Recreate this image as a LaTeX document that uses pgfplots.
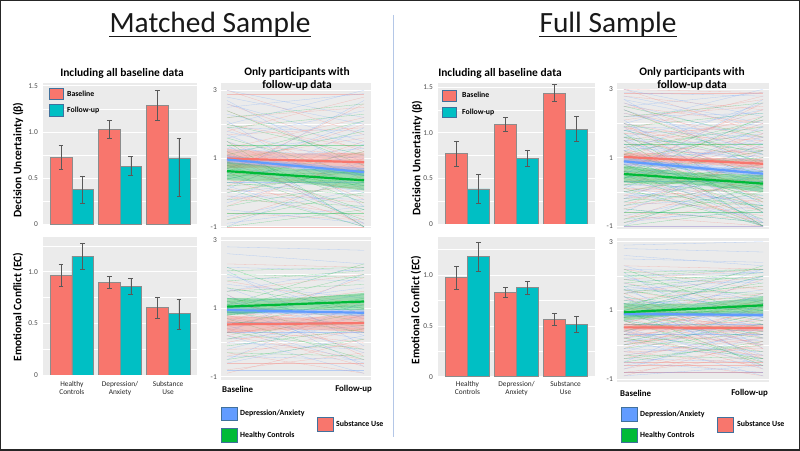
\documentclass[border=0pt]{standalone}
\usepackage{fontspec}
\setmainfont{Carlito}
\usepackage{pgfplots}
\usepackage{pgfplotstable}
\pgfplotsset{compat=1.18}
\definecolor{ggred}{HTML}{F8766D}
\definecolor{ggteal}{HTML}{00BFC4}
\definecolor{ggblue}{HTML}{619CFF}
\definecolor{gggreen}{HTML}{00BA38}
\definecolor{panelgray}{HTML}{EBEBEB}
\definecolor{tickgray}{HTML}{4D4D4D}
\definecolor{boxborder}{HTML}{41719C}
\definecolor{sepline}{HTML}{B4C7E7}

% spaghetti data: b = baseline, f = follow-up
\pgfplotstableread[row sep=\\]{b f\\2.9 2.9\\2.6 1.2\\2.2 2.5\\1.9 0.4\\1.7 1.9\\1.5 -0.2\\1.4 1.1\\1.3 2.2\\1.1 0.3\\1.0 1.6\\0.9 -0.6\\0.8 0.9\\0.7 2.0\\0.6 0.1\\0.5 1.2\\0.4 -0.9\\0.3 0.6\\0.2 1.5\\0.1 -0.3\\0.0 0.8\\-0.2 0.2\\-0.4 1.0\\-0.6 -0.8\\-0.8 0.5\\-1.0 -1.0\\2.4 0.9\\1.8 2.8\\1.2 -1.0\\0.6 2.6\\-0.1 -0.7\\3.0 1.7\\2.0 1.3\\}\duRm
\pgfplotstableread[row sep=\\]{b f\\3.0 2.2\\2.8 2.0\\2.7 0.6\\2.5 2.9\\2.3 1.4\\2.1 -0.4\\1.9 1.8\\1.8 0.8\\1.6 2.4\\1.5 0.2\\1.3 1.0\\1.2 1.7\\1.1 -0.9\\1.0 0.5\\0.9 1.3\\0.8 0.0\\0.7 2.1\\0.6 0.7\\0.5 -0.5\\0.4 1.1\\0.3 0.3\\0.2 -1.0\\0.1 1.9\\0.0 0.4\\-0.1 -0.2\\-0.3 0.9\\-0.5 -0.9\\-0.7 0.1\\-0.9 -0.4\\-1.0 0.6\\2.0 3.0\\1.4 -1.0\\0.5 2.7\\2.6 1.5\\1.7 0.1\\-0.2 1.4\\}\duBm
\pgfplotstableread[row sep=\\]{b f\\2.0 1.1\\1.9 2.3\\1.6 0.5\\1.4 1.4\\1.2 -0.3\\1.0 0.9\\0.9 1.8\\0.7 0.2\\0.6 -0.8\\0.5 0.6\\0.4 1.2\\0.3 -0.1\\0.2 0.4\\0.1 -1.0\\0.0 0.7\\-0.2 -0.4\\-0.4 0.3\\-0.6 -0.6\\-0.8 0.0\\-1.0 -0.5\\2.2 2.6\\1.1 2.1\\0.8 -0.5\\2.4 0.8\\1.5 -1.0\\}\duGm
\pgfplotstableread[row sep=\\]{b f\\2.8 2.4\\2.5 2.0\\2.3 1.6\\2.1 2.7\\1.9 1.0\\1.7 1.5\\1.6 0.6\\1.5 2.1\\1.3 -0.5\\1.2 0.8\\1.0 2.4\\0.9 0.2\\0.8 1.3\\0.6 -1.0\\0.5 0.3\\0.3 1.7\\0.1 0.0\\-0.1 0.9\\-0.3 -0.5\\-0.5 0.4\\-0.7 -1.0\\-0.9 -0.2\\2.0 -0.3\\3.0 2.9\\1.1 1.2\\}\duRx
\pgfplotstableread[row sep=\\]{b f\\2.9 2.8\\2.4 1.1\\2.2 2.3\\2.0 0.3\\1.8 1.6\\1.6 -0.6\\1.4 0.9\\1.2 2.6\\1.0 1.2\\0.8 -1.0\\0.6 0.4\\0.4 1.6\\0.2 0.1\\0.0 -0.8\\-0.2 0.5\\-0.4 -0.1\\-0.6 1.2\\-0.8 -0.6\\-1.0 -1.0\\2.7 1.9\\1.5 1.4\\0.9 0.7\\0.3 -0.4\\1.9 -0.9\\}\duBx
\pgfplotstableread[row sep=\\]{b f\\2.5 1.6\\1.8 0.9\\1.3 1.9\\1.1 0.1\\0.9 -0.2\\0.7 1.0\\0.5 -1.0\\0.2 0.8\\0.0 -0.4\\-0.3 0.6\\-0.5 -0.9\\-0.9 0.2\\1.7 -0.6\\0.4 2.2\\1.6 1.2\\}\duGx
\pgfplotstableread[row sep=\\]{b f\\2.3 2.2\\1.8 1.1\\1.5 2.0\\1.2 0.3\\1.0 1.5\\0.9 0.5\\0.8 -0.2\\0.7 0.9\\0.6 0.4\\0.5 1.2\\0.4 0.0\\0.3 0.6\\0.2 -0.5\\0.1 0.3\\0.0 0.8\\-0.2 -0.1\\-0.4 0.4\\-0.6 -0.6\\-0.8 -0.3\\-0.9 0.1\\1.4 -0.4\\0.6 1.9\\0.2 1.0\\-0.3 -0.9\\1.1 0.7\\0.4 -0.7\\}\ecRm
\pgfplotstableread[row sep=\\]{b f\\2.8 2.7\\2.6 2.3\\2.2 2.1\\2.0 0.7\\1.9 1.8\\1.7 1.3\\1.6 0.2\\1.5 2.2\\1.3 1.0\\1.2 0.4\\1.1 1.6\\1.0 -0.3\\0.9 0.9\\0.8 1.4\\0.7 0.1\\0.6 0.6\\0.5 -0.6\\0.4 1.1\\0.3 0.3\\0.2 -0.9\\0.1 0.5\\0.0 -0.2\\-0.2 0.8\\-0.4 -0.5\\-0.6 0.2\\-0.8 -0.8\\2.1 -0.1\\0.3 2.0\\1.4 -0.7\\-0.5 1.2\\}\ecBm
\pgfplotstableread[row sep=\\]{b f\\2.1 2.2\\2.0 1.9\\1.8 2.1\\1.6 1.0\\1.5 1.7\\1.3 0.6\\1.2 1.4\\1.0 2.0\\0.9 0.3\\0.8 1.1\\0.6 0.5\\0.5 1.3\\0.3 -0.2\\0.1 0.9\\-0.1 0.4\\-0.3 -0.4\\-0.5 0.1\\2.2 0.8\\0.7 -0.5\\1.1 2.3\\}\ecGm
\pgfplotstableread[row sep=\\]{b f\\2.2 1.6\\1.9 2.2\\1.6 0.9\\1.3 1.7\\1.1 0.2\\0.9 1.2\\0.8 0.6\\0.7 -0.4\\0.5 0.7\\0.4 1.5\\0.3 0.1\\0.1 -0.3\\0.0 0.5\\-0.1 1.1\\-0.3 0.2\\-0.5 -0.5\\-0.7 0.0\\-0.8 -0.8\\1.5 -0.1\\0.6 0.3\\0.2 0.9\\-0.2 -0.6\\1.0 0.0\\0.3 1.3\\}\ecRx
\pgfplotstableread[row sep=\\]{b f\\2.9 3.0\\2.5 2.4\\2.3 1.2\\2.0 2.1\\1.8 0.8\\1.6 1.9\\1.4 0.5\\1.2 1.3\\1.0 2.0\\0.9 0.0\\0.7 1.0\\0.5 0.4\\0.4 -0.4\\0.2 0.6\\0.0 1.5\\-0.1 -0.3\\-0.3 0.3\\-0.5 -0.8\\-0.7 0.5\\-0.9 -0.6\\1.7 -0.5\\0.8 2.2\\}\ecBx
\pgfplotstableread[row sep=\\]{b f\\2.0 2.2\\1.9 1.4\\1.7 2.0\\1.4 0.7\\1.2 1.8\\0.9 1.0\\0.7 0.2\\0.4 1.2\\0.2 -0.4\\0.0 0.6\\-0.4 0.0\\1.0 -0.6\\1.6 1.5\\}\ecGx

\pgfplotsset{
  panel/.style={scale only axis, anchor=south west,
    axis background/.style={fill=panelgray},
    axis line style={draw=none}, tick style={draw=none},
    yticklabel style={font=\fontsize{7.5}{9}\selectfont, text=tickgray, inner sep=0pt, anchor=east},
    /pgf/number format/assume math mode=true,
    ymajorgrids, yminorgrids,
    major grid style={white, line width=0.7bp},
    minor grid style={white, line width=0.35bp}},
  barpanel/.style={panel, xmin=0.4, xmax=3.6, ymin=0, xtick=\empty,
    ytick={0,0.5,1,1.5}, yticklabels={0,0.5,1.0,1.5}, minor ytick={0.25,0.75,1.25},
    yticklabel style={xshift=-5bp}},
  linepanel/.style={panel, xtick=\empty, ytick={-1,1,3}, yticklabels={-1,1,3},
    minor ytick={0,2}, yticklabel style={xshift=-4bp}},
  ebars/.style={error bars/.cd, y dir=both, y explicit, error mark=-,
    error bar style={black!65, line width=0.5bp},
    error mark options={rotate=90, black!65, line width=0.5bp, mark size=2.4bp}},
  bbar/.style={ybar, bar width=0.45, bar shift=0, fill=ggred, draw=black!45, line width=0.5bp, ebars},
  fbar/.style={ybar, bar width=0.45, bar shift=0, fill=ggteal, draw=black!45, line width=0.5bp, ebars},
  sp/.style={#1, opacity=0.38, line width=0.3bp, -, quiver={u=1, v=\thisrow{f}-\thisrow{b}}},
  band/.style={fill=#1, fill opacity=0.33, draw=none},
  mline/.style={#1, line width=2.2bp},
}

\begin{document}
\begin{tikzpicture}[x=1bp,y=1bp]
\path[use as bounding box] (0,0) rectangle (800,451);
\fill[white] (0,0) rectangle (800,451);

% ================= MATCHED: bar DU =================
\begin{axis}[barpanel, at={(43bp,226.7bp)}, width=154bp, height=141bp, ymax=1.526]
\addplot[bbar] coordinates {(0.775,0.725) += (0,0.126) -= (0,0.127) (1.775,1.028) += (0,0.093) -= (0,0.097) (2.775,1.288) += (0,0.158) -= (0,0.167)};
\addplot[fbar] coordinates {(1.225,0.379) += (0,0.144) -= (0,0.152) (2.225,0.628) += (0,0.108) -= (0,0.098) (3.225,0.718) += (0,0.216) -= (0,0.412)};
\end{axis}
% ================= MATCHED: bar EC =================
\begin{axis}[barpanel, at={(43bp,76bp)}, width=154bp, height=138.3bp, ymax=1.339,
  xtick={1,2,3}, xticklabels={{Healthy\\Controls},{Depression/\\Anxiety},{Substance\\Use}},
  xticklabel style={align=center, font=\fontsize{7.4}{8.3}\selectfont, text=black!85, inner sep=0pt, yshift=-6bp}]
\addplot[bbar] coordinates {(0.775,0.965) += (0,0.112) -= (0,0.106) (1.775,0.897) += (0,0.061) -= (0,0.057) (2.775,0.657) += (0,0.099) -= (0,0.106)};
\addplot[fbar] coordinates {(1.225,1.15) += (0,0.13) -= (0,0.124) (2.225,0.856) += (0,0.08) -= (0,0.077) (3.225,0.593) += (0,0.144) -= (0,0.154)};
\end{axis}
% ================= MATCHED: lines DU =================
\begin{axis}[linepanel, at={(221bp,223bp)}, width=150bp, height=145bp, xmin=-0.0438, xmax=1.051, ymin=-1.038, ymax=3.214]
\addplot[sp=ggred] table[x expr=0, y=b] {\duRm};
\addplot[sp=ggblue] table[x expr=0, y=b] {\duBm};
\addplot[sp=gggreen] table[x expr=0, y=b] {\duGm};
\addplot[band=ggred] coordinates {(0,1.28)(0.5,1.145)(1,1.17)(1,0.61)(0.5,0.745)(0,0.72)} -- cycle;
\addplot[band=ggblue] coordinates {(0,1.09)(0.5,0.865)(1,0.72)(1,0.48)(0.5,0.705)(0,0.85)} -- cycle;
\addplot[band=gggreen] coordinates {(0,0.9)(0.5,0.695)(1,0.66)(1,0.06)(0.5,0.295)(0,0.36)} -- cycle;
\addplot[mline=ggred] coordinates {(0,1.0)(1,0.89)};
\addplot[mline=ggblue] coordinates {(0,0.97)(1,0.6)};
\addplot[mline=gggreen] coordinates {(0,0.63)(1,0.36)};
\end{axis}
% ================= MATCHED: lines EC =================
\begin{axis}[linepanel, at={(221bp,71bp)}, width=150bp, height=143.3bp, xmin=-0.0438, xmax=1.051, ymin=-1.097, ymax=3.097]
\addplot[sp=ggred] table[x expr=0, y=b] {\ecRm};
\addplot[sp=ggblue] table[x expr=0, y=b] {\ecBm};
\addplot[sp=gggreen] table[x expr=0, y=b] {\ecGm};
\addplot[band=ggred] coordinates {(0,0.78)(0.5,0.72)(1,0.82)(1,0.32)(0.5,0.38)(0,0.28)} -- cycle;
\addplot[band=ggblue] coordinates {(0,1.05)(0.5,0.98)(1,0.97)(1,0.77)(0.5,0.84)(0,0.85)} -- cycle;
\addplot[band=gggreen] coordinates {(0,1.3)(0.5,1.285)(1,1.45)(1,0.95)(0.5,0.965)(0,0.8)} -- cycle;
\addplot[mline=ggred] coordinates {(0,0.53)(1,0.57)};
\addplot[mline=ggblue] coordinates {(0,0.95)(1,0.87)};
\addplot[mline=gggreen] coordinates {(0,1.05)(1,1.2)};
\end{axis}

% ================= FULL: bar DU =================
\begin{axis}[barpanel, at={(438bp,227bp)}, width=157bp, height=141bp, ymax=1.547]
\addplot[bbar] coordinates {(0.775,0.776) += (0,0.135) -= (0,0.139) (1.775,1.094) += (0,0.077) -= (0,0.081) (2.775,1.434) += (0,0.103) -= (0,0.089)};
\addplot[fbar] coordinates {(1.225,0.384) += (0,0.162) -= (0,0.157) (2.225,0.724) += (0,0.088) -= (0,0.095) (3.225,1.04) += (0,0.139) -= (0,0.135)};
\end{axis}
% ================= FULL: bar EC =================
\begin{axis}[barpanel, at={(438bp,74.3bp)}, width=157bp, height=140bp, ymax=1.377,
  xtick={1,2,3}, xticklabels={{Healthy\\Controls},{Depression/\\Anxiety},{Substance\\Use}},
  xticklabel style={align=center, font=\fontsize{7.4}{8.3}\selectfont, text=black!85, inner sep=0pt, yshift=-4bp}]
\addplot[bbar] coordinates {(0.775,0.974) += (0,0.108) -= (0,0.115) (1.775,0.826) += (0,0.049) -= (0,0.049) (2.775,0.564) += (0,0.059) -= (0,0.056)};
\addplot[fbar] coordinates {(1.225,1.18) += (0,0.138) -= (0,0.138) (2.225,0.875) += (0,0.059) -= (0,0.065) (3.225,0.518) += (0,0.079) -= (0,0.081)};
\end{axis}
% ================= FULL: lines DU =================
\begin{axis}[linepanel, at={(617bp,222bp)}, width=152bp, height=146bp, xmin=-0.05, xmax=1.043, ymin=-1.088, ymax=3.184]
\addplot[sp=ggred] table[x expr=0, y=b] {\duRm};
\addplot[sp=ggblue] table[x expr=0, y=b] {\duBm};
\addplot[sp=gggreen] table[x expr=0, y=b] {\duGm};
\addplot[sp=ggred] table[x expr=0, y=b] {\duRx};
\addplot[sp=ggblue] table[x expr=0, y=b] {\duBx};
\addplot[sp=gggreen] table[x expr=0, y=b] {\duGx};
\addplot[band=ggred] coordinates {(0,1.15)(0.5,1.01)(1,0.95)(1,0.69)(0.5,0.83)(0,0.89)} -- cycle;
\addplot[band=ggblue] coordinates {(0,0.99)(0.5,0.78)(1,0.63)(1,0.43)(0.5,0.64)(0,0.79)} -- cycle;
\addplot[band=gggreen] coordinates {(0,0.77)(0.5,0.55)(1,0.49)(1,-0.01)(0.5,0.21)(0,0.27)} -- cycle;
\addplot[mline=ggred] coordinates {(0,1.02)(1,0.82)};
\addplot[mline=ggblue] coordinates {(0,0.89)(1,0.53)};
\addplot[mline=gggreen] coordinates {(0,0.52)(1,0.24)};
\end{axis}
% ================= FULL: lines EC =================
\begin{axis}[linepanel, at={(617bp,69bp)}, width=152bp, height=144.3bp, xmin=-0.05, xmax=1.043, ymin=-1.078, ymax=3.116]
\addplot[sp=ggred] table[x expr=0, y=b] {\ecRm};
\addplot[sp=ggblue] table[x expr=0, y=b] {\ecBm};
\addplot[sp=gggreen] table[x expr=0, y=b] {\ecGm};
\addplot[sp=ggred] table[x expr=0, y=b] {\ecRx};
\addplot[sp=ggblue] table[x expr=0, y=b] {\ecBx};
\addplot[sp=gggreen] table[x expr=0, y=b] {\ecGx};
\addplot[band=ggred] coordinates {(0,0.6)(0.5,0.56)(1,0.58)(1,0.4)(0.5,0.44)(0,0.42)} -- cycle;
\addplot[band=ggblue] coordinates {(0,0.97)(0.5,0.935)(1,0.94)(1,0.8)(0.5,0.835)(0,0.83)} -- cycle;
\addplot[band=gggreen] coordinates {(0,1.19)(0.5,1.2)(1,1.39)(1,0.91)(0.5,0.9)(0,0.71)} -- cycle;
\addplot[mline=ggred] coordinates {(0,0.51)(1,0.49)};
\addplot[mline=ggblue] coordinates {(0,0.9)(1,0.87)};
\addplot[mline=gggreen] coordinates {(0,0.95)(1,1.15)};
\end{axis}

% ================= Titles and labels =================
\node[anchor=base, font=\fontsize{29.5}{32}\selectfont, text=black!90, inner sep=0pt] (t1) at (210,418) {Matched Sample};
\draw[black!90, line width=1.1bp] ([yshift=-3.4bp]t1.base west) -- ([yshift=-3.4bp]t1.base east);
\node[anchor=base, font=\fontsize{29.5}{32}\selectfont, text=black!90, inner sep=0pt] (t2) at (608,418) {Full Sample};
\draw[black!90, line width=1.1bp] ([yshift=-3.4bp]t2.base west) -- ([yshift=-3.4bp]t2.base east);

\node[font=\bfseries\fontsize{11.5}{13}\selectfont] at (122,378) {Including all baseline data};
\node[font=\bfseries\fontsize{11.5}{13}\selectfont] at (500,378) {Including all baseline data};
\node[font=\bfseries\fontsize{11.5}{13}\selectfont, align=center] at (297,372.5) {Only participants with\\follow-up data};
\node[font=\bfseries\fontsize{11.5}{13}\selectfont, align=center] at (692,372.5) {Only participants with\\follow-up data};

\node[rotate=90, font=\bfseries\fontsize{11.5}{13}\selectfont] at (18,291) {Decision Uncertainty (β)};
\node[rotate=90, font=\bfseries\fontsize{11.5}{13}\selectfont] at (18,144) {Emotional Conflict (EC)};
\node[rotate=90, font=\bfseries\fontsize{11.5}{13}\selectfont] at (417,293) {Decision Uncertainty (β)};
\node[rotate=90, font=\bfseries\fontsize{11.5}{13}\selectfont] at (416,141) {Emotional Conflict (EC)};

% bar legends
\begin{scope}[font=\bfseries\fontsize{7.8}{9}\selectfont]
\filldraw[fill=ggred, draw=boxborder, line width=0.8bp] (49,352) rectangle (63,363);
\filldraw[fill=ggteal, draw=boxborder, line width=0.8bp] (49,335) rectangle (63,347);
\node[anchor=west, inner sep=0pt] at (67,357) {Baseline};
\node[anchor=west, inner sep=0pt] at (67,341) {Follow-up};
\filldraw[fill=ggred, draw=boxborder, line width=0.8bp] (442,350) rectangle (456,361);
\filldraw[fill=ggteal, draw=boxborder, line width=0.8bp] (442,334) rectangle (456,344);
\node[anchor=west, inner sep=0pt] at (462,356) {Baseline};
\node[anchor=west, inner sep=0pt] at (462,339) {Follow-up};
\end{scope}

% time labels
\begin{scope}[font=\bfseries\fontsize{8.9}{10}\selectfont]
\node[anchor=west, inner sep=0pt] at (222,62) {Baseline};
\node[anchor=east, inner sep=0pt] at (372,62) {Follow-up};
\node[anchor=west, inner sep=0pt] at (620,58) {Baseline};
\node[anchor=east, inner sep=0pt] at (768,58) {Follow-up};
\end{scope}

% group legends
\begin{scope}[font=\bfseries\fontsize{7.9}{9}\selectfont]
\filldraw[fill=ggblue, draw=boxborder, line width=0.8bp] (221,31) rectangle (237,44);
\filldraw[fill=gggreen, draw=boxborder, line width=0.8bp] (221,9) rectangle (237,23);
\filldraw[fill=ggred, draw=boxborder, line width=0.8bp] (317,20) rectangle (333,34);
\node[anchor=west, inner sep=0pt] at (240,38) {Depression/Anxiety};
\node[anchor=west, inner sep=0pt] at (240,16) {Healthy Controls};
\node[anchor=west, inner sep=0pt] at (336,27) {Substance Use};
\filldraw[fill=ggblue, draw=boxborder, line width=0.8bp] (621,30) rectangle (637,44);
\filldraw[fill=gggreen, draw=boxborder, line width=0.8bp] (621,9) rectangle (637,23);
\filldraw[fill=ggred, draw=boxborder, line width=0.8bp] (717,19) rectangle (733,34);
\node[anchor=west, inner sep=0pt] at (640,37) {Depression/Anxiety};
\node[anchor=west, inner sep=0pt] at (640,16) {Healthy Controls};
\node[anchor=west, inner sep=0pt] at (737,27) {Substance Use};
\end{scope}

% separator and frame
\draw[sepline, line width=1bp] (393,436) -- (393,14);
\draw[black!85, line width=1.5bp] (0.75,0.75) rectangle (799.25,450.25);
\end{tikzpicture}
\end{document}
